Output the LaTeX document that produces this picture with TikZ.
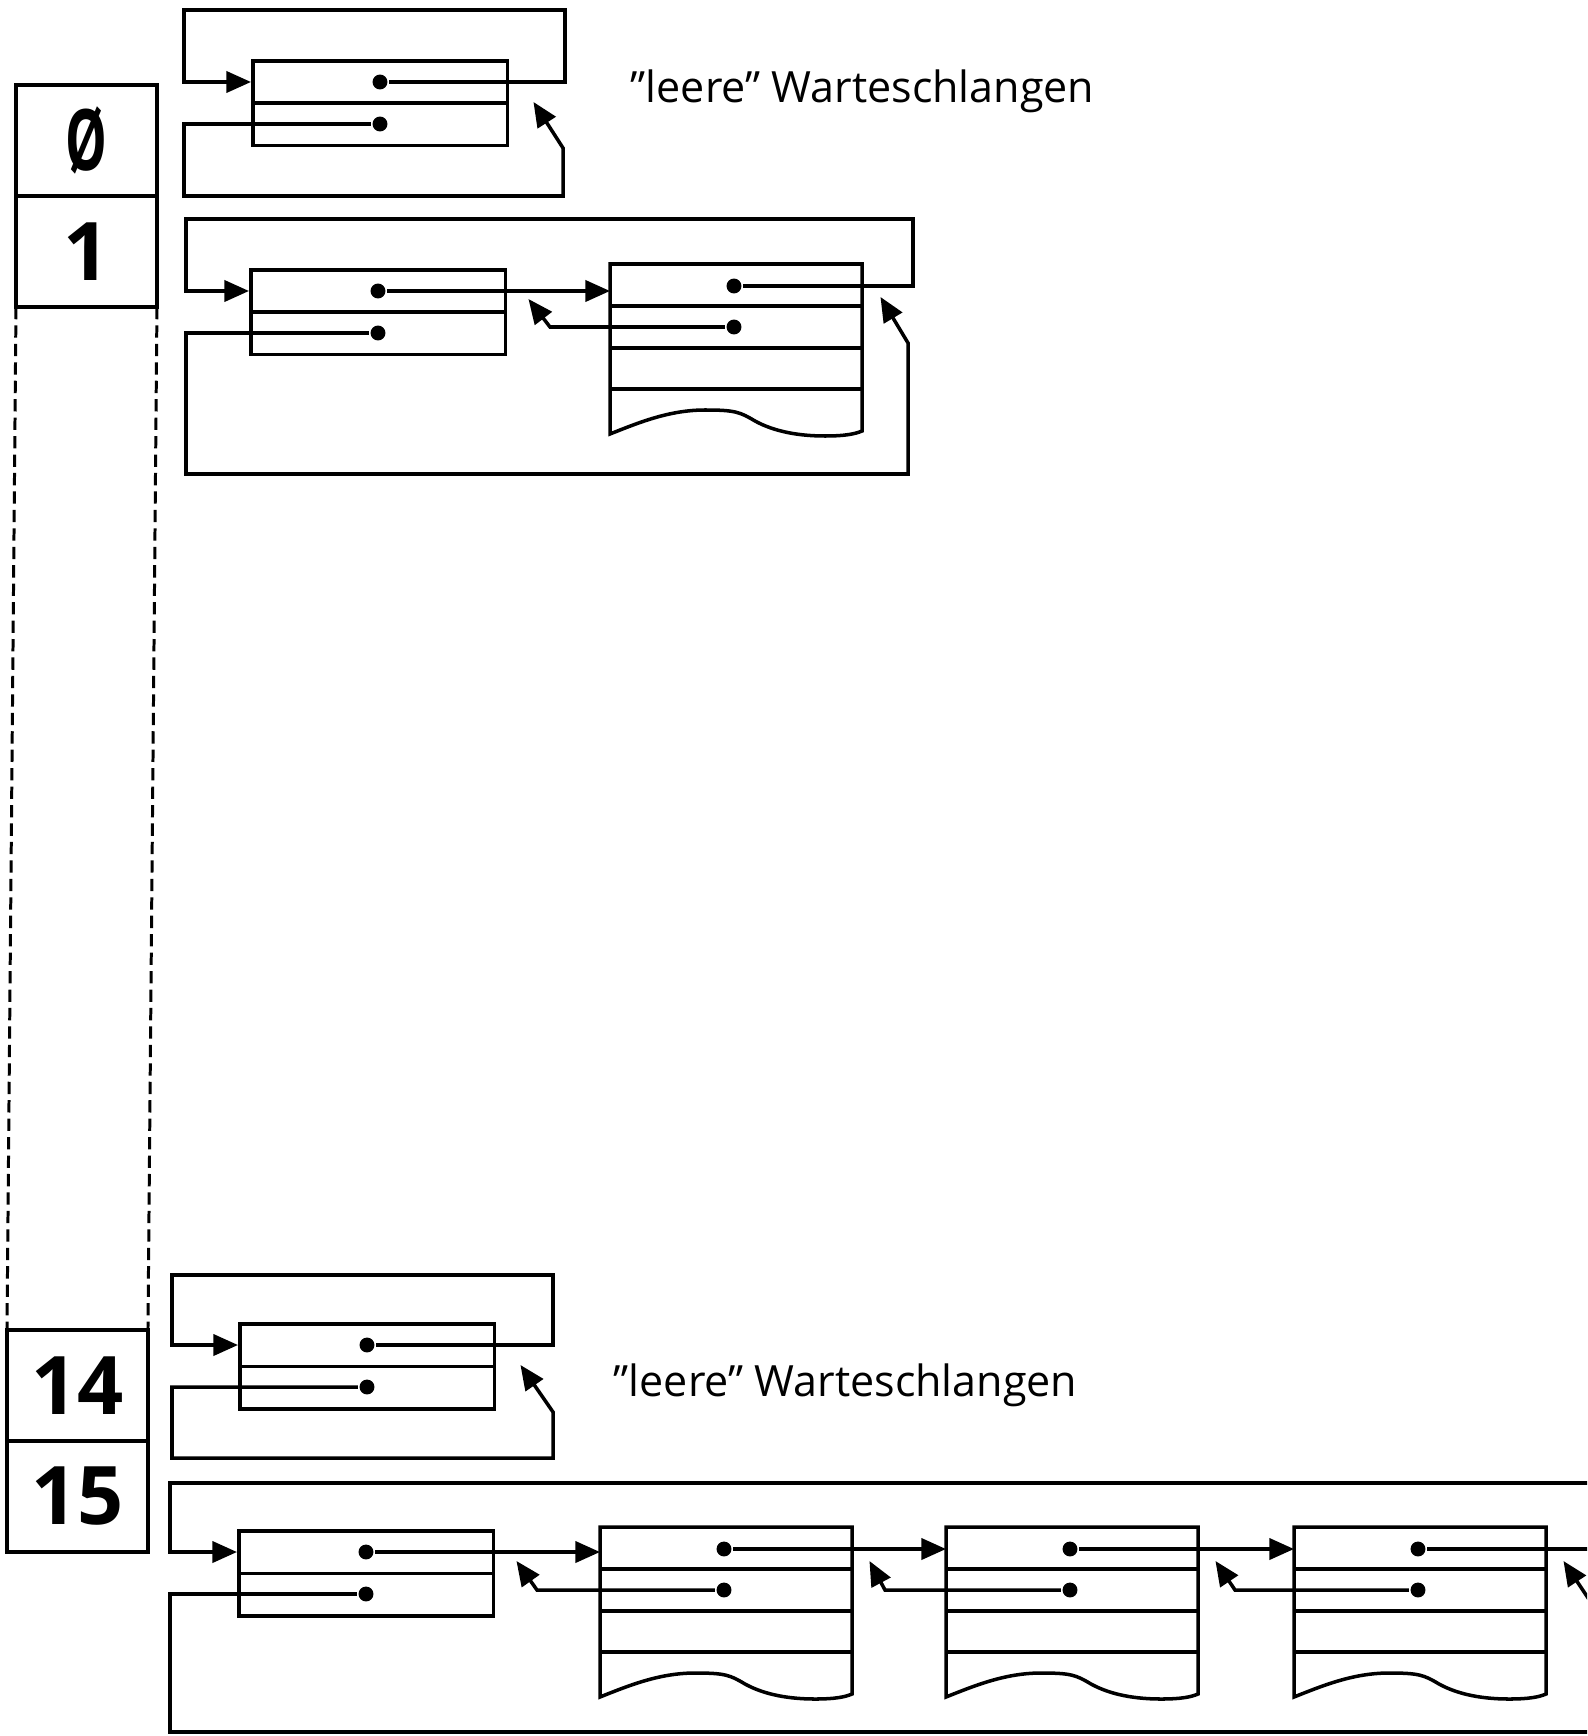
\documentclass[tikz,border=0pt]{standalone}
\usepackage{fontspec}
\setmainfont{Open Sans}
\usetikzlibrary{arrows.meta}

\begin{document}
          \begin{tikzpicture}[x=0.02cm,y=-0.02cm,line width=2pt,
            pfeil/.style={-{Triangle[length=14pt,width=12pt]}},
            kopf/.style={draw,rectangle,inner sep=0pt,minimum width=5.1cm,minimum height=1.7cm,anchor=north west},
            satz/.style={rectangle,inner sep=0pt,minimum width=5.04cm,minimum height=3.44cm,anchor=north west},
            fach/.style={draw,rectangle,inner sep=0pt,outer sep=0pt,minimum width=2.82cm,minimum height=2.22cm,font=\fontsize{46}{55}\selectfont\bfseries},
            punkt/.style={circle,fill=black,inner sep=0pt,minimum size=8.5pt},
            titel/.style={anchor=base west,inner sep=0pt,font=\fontsize{24.5}{29}\selectfont}]
            \useasboundingbox (0,0) rectangle (1587,1736);
            \clip (0,0) rectangle (1587,1736);
            \node[fach,anchor=north west] (i0) at (16,85) {\scalebox{0.65}[1.05]{Ø}};
            \node[fach,anchor=north] (i1) at (i0.south) {1};
            \node[fach,anchor=north west] (i14) at (7,1330) {14};
            \node[fach,anchor=north] (i15) at (i14.south) {15};
            \draw[line width=1.7pt,dash pattern=on 7pt off 3.5pt] (i1.south west) -- (i14.north west) (i1.south east) -- (i14.north east);
            \foreach \n/\x/\y in {k0/251/59,k1/249/268,k14/238/1322,k15/237/1529}{
              \node[kopf] (\n) at (\x,\y) {};
              \draw (\n.west) -- (\n.east);
              \node[punkt] (\n v) at ([shift={(129,23)}]\n.north west) {};
              \node[punkt] (\n r) at ([shift={(129,65)}]\n.north west) {};
            }
            \foreach \n/\x/\y in {e1/610/264,e15a/600/1527,e15b/946/1527,e15c/1294/1527}{
              \node[satz] (\n) at (\x,\y) {};
              \begin{scope}[shift={(\n.north west)}]
                \draw (0,170) -- (0,0) -- (252,0) -- (252,167) .. controls (245,170) and (235,172) .. (215,172) .. controls (190,172) and (165,168) .. (145,157) .. controls (130,148) and (125,146) .. (95,146) .. controls (60,146) and (30,158) .. (0,170) -- cycle;
                \draw (0,42) -- (252,42) (0,84) -- (252,84) (0,125) -- (252,125);
                \node[punkt] (\n v) at (124,22) {};
                \node[punkt] (\n r) at (124,63) {};
              \end{scope}
            }
            \node[titel] (t0) at (629,103) {"leere" Warteschlangen};
            \node[titel] (t14) at (612,1396) {"leere" Warteschlangen};
            \draw[pfeil] (k0v) -| (565,10) -| (184,82) -- (k0.west |- k0v);
            \draw[pfeil] (k0r) -| (184,196) -| (563,148) -- ([shift={(24,43)}]k0.north east);
            \draw[pfeil] (k1v) -- (k1v -| e1.west);
            \draw[pfeil] (e1r) -- ++(-184,0) -- ([shift={(21,31)}]k1.north east);
            \draw[pfeil] (e1v) -| (913,219) -| (186,291) -- (k1.west |- k1v);
            \draw[pfeil] (k1r) -| (186,474) -| (908,343) -- ([shift={(15,33)}]e1.north east);
            \draw[pfeil] (k14v) -| (553,1275) -| (172,1345) -- (k14.west |- k14v);
            \draw[pfeil] (k14r) -| (172,1458) -| (553,1412) -- ([shift={(24,43)}]k14.north east);
            \draw[pfeil] (k15v) -- (k15v -| e15a.west);
            \draw[pfeil] (e15av) -- (e15av -| e15b.west);
            \draw[pfeil] (e15bv) -- (e15bv -| e15c.west);
            \draw (e15cv) -- ++(250,0);
            \draw[pfeil] (e15ar) -- ++(-187,0) -- ([shift={(21,32)}]k15.north east);
            \draw[pfeil] (e15br) -- ++(-185,0) -- ([shift={(14,34)}]e15a.north east);
            \draw[pfeil] (e15cr) -- ++(-183,0) -- ([shift={(14,34)}]e15b.north east);
            \draw[pfeil] (1600,1616) -- ([shift={(14,34)}]e15c.north east);
            \draw[pfeil] (1650,1483) -| (170,1552) -- (k15.west |- k15v);
            \draw (k15r) -| (170,1732) -- (1650,1732);
          \end{tikzpicture}
\end{document}
